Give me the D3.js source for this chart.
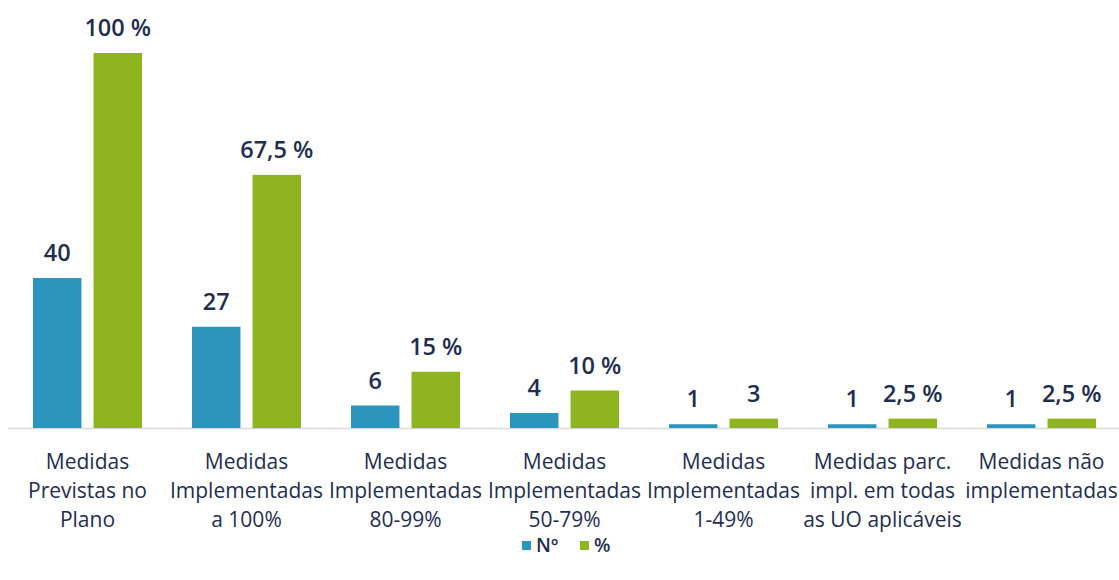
<!DOCTYPE html>
<html>
<head>
<meta charset="utf-8">
<script src="https://cdn.jsdelivr.net/npm/d3@7"></script>
<style>
  html, body { margin: 0; padding: 0; background: #fff; }
  svg { display: block; }
</style>
</head>
<body>
<svg id="chart" width="1119" height="580"></svg>
<script>
const categories = [
  ["Medidas", "Previstas no", "Plano"],
  ["Medidas", "Implementadas", "a 100%"],
  ["Medidas", "Implementadas", "80-99%"],
  ["Medidas", "Implementadas", "50-79%"],
  ["Medidas", "Implementadas", "1-49%"],
  ["Medidas parc.", "impl. em todas", "as UO aplicáveis"],
  ["Medidas não", "implementadas"]
];
const seriesNames = ["Nº", "%"];
const valuesN = [40, 27, 6, 4, 1, 1, 1];
const valuesPct = [100, 67.5, 15, 10, 2.5, 2.5, 2.5];
const labelsN = ["40", "27", "6", "4", "1", "1", "1"];
const labelsPct = ["100 %", "67,5 %", "15 %", "10 %", "3", "2,5 %", "2,5 %"];
const colors = ["#2B95BE", "#8EB420"];

const svg = d3.select("#chart");
const font = "'Open Sans', Lato, sans-serif";
const textColor = "#1F2E4F";

const baseY = 428;
const x = d3.scaleBand().domain(d3.range(categories.length)).range([8, 1121]).paddingInner(0).paddingOuter(0);
const y = d3.scaleLinear().domain([0, 100]).range([baseY, 53]);
const sub = d3.scaleBand().domain([0, 1]).range([25, x.bandwidth() - 25]).paddingInner(0.2);

// axis baseline
svg.append("line")
  .attr("x1", 8).attr("x2", 1119)
  .attr("y1", baseY + 0.5).attr("y2", baseY + 0.5)
  .attr("stroke", "#d9d9d9").attr("stroke-width", 1.5);

const series = [valuesN, valuesPct];
const labels = [labelsN, labelsPct];

series.forEach((vals, s) => {
  svg.append("g").selectAll("rect").data(vals).join("rect")
    .attr("x", (d, i) => x(i) + sub(s))
    .attr("width", sub.bandwidth())
    .attr("y", d => y(d))
    .attr("height", d => baseY - y(d))
    .attr("fill", colors[s]);
  svg.append("g").selectAll("text").data(vals).join("text")
    .attr("x", (d, i) => x(i) + sub(s) + sub.bandwidth() / 2)
    .attr("y", d => y(d) - 17)
    .attr("text-anchor", "middle")
    .attr("font-family", font)
    .attr("font-size", 23.5)
    .attr("font-weight", 600)
    .attr("fill", textColor)
    .text((d, i) => labels[s][i]);
});

// category labels
const cat = svg.append("g");
categories.forEach((lines, i) => {
  const t = cat.append("text")
    .attr("x", x(i) + x.bandwidth() / 2)
    .attr("y", 469)
    .attr("text-anchor", "middle")
    .attr("font-family", font)
    .attr("font-size", 21)
    .attr("font-weight", 500)
    .attr("fill", textColor);
  lines.forEach((ln, k) => {
    t.append("tspan").attr("x", x(i) + x.bandwidth() / 2).attr("dy", k === 0 ? 0 : 29).text(ln);
  });
});

// legend
const legend = svg.append("g");
const legendX = [522, 580];
seriesNames.forEach((n, s) => {
  legend.append("rect")
    .attr("x", legendX[s]).attr("y", 541)
    .attr("width", 9).attr("height", 9)
    .attr("fill", colors[s]);
  legend.append("text")
    .attr("x", legendX[s] + 14).attr("y", 552)
    .attr("font-family", font)
    .attr("font-size", 19)
    .attr("font-weight", 600)
    .attr("fill", textColor)
    .text(n);
});
</script>
</body>
</html>
